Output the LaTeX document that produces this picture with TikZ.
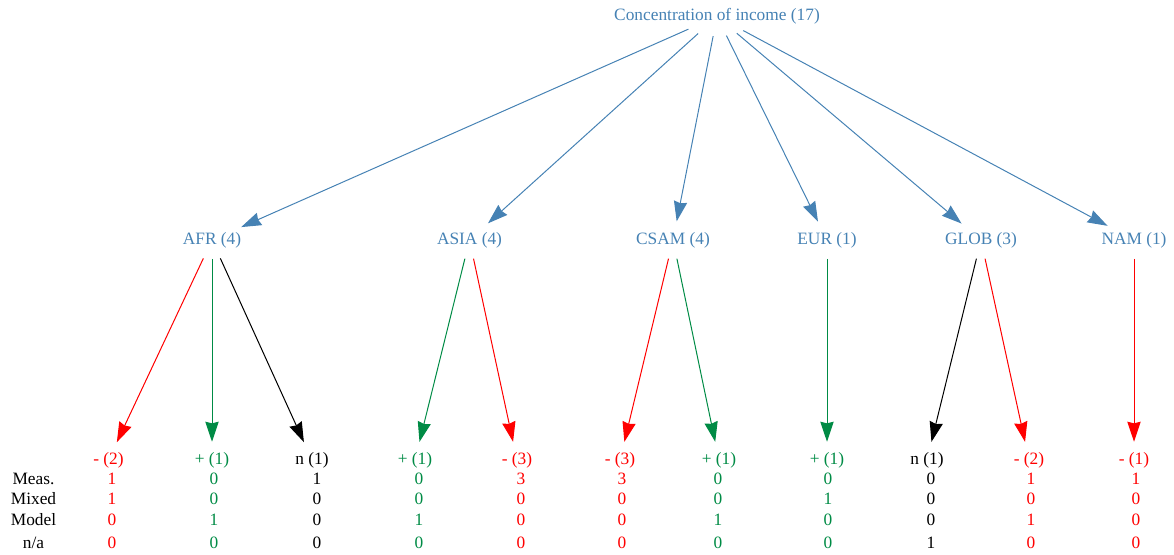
\documentclass[tikz,border=0pt]{standalone}
\usepackage{fontspec}
\setmainfont{Liberation Serif}
\usetikzlibrary{arrows.meta,shapes.geometric}
\definecolor{steel}{HTML}{4682B4}
\definecolor{grn}{RGB}{0,139,69}
\definecolor{rd}{RGB}{255,0,0}
\begin{document}
\begin{tikzpicture}[x=0.75pt,y=-0.75pt,
  font=\fontsize{13}{15.6}\selectfont,
  rootnode/.style={ellipse,inner sep=0pt,minimum width=55.5pt,minimum height=29.25pt},
  midnode/.style={ellipse,inner sep=0pt,minimum width=60pt,minimum height=27.75pt},
  leafnode/.style={ellipse,inner sep=0pt,minimum width=54pt,minimum height=27pt},
  val/.style={anchor=base,inner sep=0pt},
  arr/.style={-{Stealth[length=15pt,width=10pt,inset=1.2pt]},line width=0.75pt}
]
\useasboundingbox (0,0) rectangle (1174,554);

% root
\node[rootnode,label={[text=steel]center:Concentration of income (17)}] (root) at (717,16.5) {};

% middle level
\node[midnode,label={[text=steel]center:AFR (4)}]  (afr)  at (212,240) {};
\node[midnode,label={[text=steel]center:ASIA (4)}] (asia) at (469.5,240) {};
\node[midnode,label={[text=steel]center:CSAM (4)}] (csam) at (673,240) {};
\node[midnode,label={[text=steel]center:EUR (1)}]  (eur)  at (827,240) {};
\node[midnode,label={[text=steel]center:GLOB (3)}] (glob) at (981,240) {};
\node[midnode,label={[text=steel]center:NAM (1)}]  (nam)  at (1134,240) {};

% leaves
\node[leafnode,label={[text=rd]center:- (2)}]   (l1)  at (108.5,460) {};
\node[leafnode,label={[text=grn]center:+ (1)}]  (l2)  at (212,460) {};
\node[leafnode,label={[text=black]center:n (1)}] (l3) at (312,460) {};
\node[leafnode,label={[text=grn]center:+ (1)}]  (l4)  at (415,460) {};
\node[leafnode,label={[text=rd]center:- (3)}]   (l5)  at (517,460) {};
\node[leafnode,label={[text=rd]center:- (3)}]   (l6)  at (620,460) {};
\node[leafnode,label={[text=grn]center:+ (1)}]  (l7)  at (719,460) {};
\node[leafnode,label={[text=grn]center:+ (1)}]  (l8)  at (827,460) {};
\node[leafnode,label={[text=black]center:n (1)}] (l9) at (927,460) {};
\node[leafnode,label={[text=rd]center:- (2)}]   (l10) at (1029,460) {};
\node[leafnode,label={[text=rd]center:- (1)}]   (l11) at (1134,460) {};

% edges root -> middle
\foreach \t in {afr,asia,csam,eur,glob,nam}
  \draw[arr,steel] (root) -- (\t);

% edges middle -> leaves
\draw[arr,rd]    (afr) -- (l1);
\draw[arr,grn]   (afr) -- (l2);
\draw[arr,black] (afr) -- (l3);
\draw[arr,grn]   (asia) -- (l4);
\draw[arr,rd]    (asia) -- (l5);
\draw[arr,rd]    (csam) -- (l6);
\draw[arr,grn]   (csam) -- (l7);
\draw[arr,grn]   (eur) -- (l8);
\draw[arr,black] (glob) -- (l9);
\draw[arr,rd]    (glob) -- (l10);
\draw[arr,rd]    (nam) -- (l11);

% row labels
\node[val] (rmeas)  at (33.5,484) {Meas.};
\node[val] (rmixed) at (33.5,504) {Mixed};
\node[val] (rmodel) at (33.5,525) {Model};
\node[val] (rna)    at (33.5,548) {n/a};

% values
\foreach \x/\c/\a/\b/\d/\e [count=\i] in {
  112/rd/1/1/0/0, 214/grn/0/0/1/0, 317/black/1/0/0/0, 419/grn/0/0/1/0,
  521/rd/3/0/0/0, 622/rd/3/0/0/0, 718/grn/0/0/1/0, 828/grn/0/1/0/0,
  931/black/0/0/0/1, 1031/rd/1/0/1/0, 1136/rd/1/0/0/0} {
  \node[val,text=\c] (va\i) at (\x,484) {\a};
  \node[val,text=\c] (vb\i) at (\x,504) {\b};
  \node[val,text=\c] (vc\i) at (\x,525) {\d};
  \node[val,text=\c] (vd\i) at (\x,548) {\e};
}
\end{tikzpicture}
\end{document}
